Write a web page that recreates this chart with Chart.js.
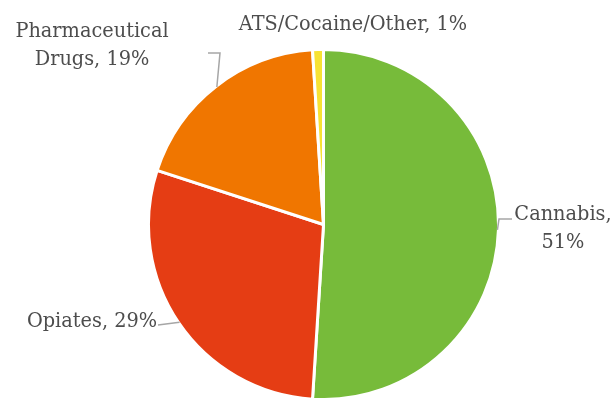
<!DOCTYPE html>
<html>
<head>
<meta charset="utf-8">
<script src="https://cdn.jsdelivr.net/npm/chart.js@4.4.1/dist/chart.umd.min.js"></script>
<style>
  html, body { margin: 0; padding: 0; background: #fff; }
  #wrap { width: 615px; height: 398px; }
</style>
</head>
<body>
<div id="wrap"><canvas id="pie" width="615" height="398"></canvas></div>
<script>
// drug types and their share of the total
var categories = ['Cannabis', 'Opiates', 'Pharmaceutical Drugs', 'ATS/Cocaine/Other'];
var shares = [51, 29, 19, 1];
var sliceColors = ['#77BB3A', '#E53D14', '#F07600', '#F7E234'];

// label text lines for each slice
var labelLines = [
  ['Cannabis,', '51%'],
  ['Opiates, 29%'],
  ['Pharmaceutical', 'Drugs, 19%'],
  ['ATS/Cocaine/Other, 1%']
];

// where each label sits and how its leader line bends
var labelLayout = [
  { x: 563, y: [220, 248], elbow: [[512, 219], [499, 219]] },
  { x: 92, y: [327], elbow: [[158, 325]] },
  { x: 92, y: [37, 65], elbow: [[208, 53], [220, 53]] },
  { x: 353, y: [30], elbow: null }
];

var labelPlugin = {
  id: 'sliceLabels',
  afterDraw: function(chart) {
    var ctx = chart.ctx;
    var arcs = chart.getDatasetMeta(0).data;
    ctx.save();
    ctx.strokeStyle = '#A6A6A6';
    ctx.lineWidth = 1.5;
    arcs.forEach(function(arc, i) {
      var lay = labelLayout[i];
      if (!lay.elbow) return;
      var mid = (arc.startAngle + arc.endAngle) / 2;
      var r = arc.outerRadius - 1;
      ctx.beginPath();
      ctx.moveTo(lay.elbow[0][0], lay.elbow[0][1]);
      for (var k = 1; k < lay.elbow.length; k++) ctx.lineTo(lay.elbow[k][0], lay.elbow[k][1]);
      ctx.lineTo(arc.x + Math.cos(mid) * r, arc.y + Math.sin(mid) * r);
      ctx.stroke();
    });
    ctx.fillStyle = '#4D4D4D';
    ctx.font = '21px "DejaVu Serif"';
    ctx.textAlign = 'center';
    ctx.textBaseline = 'alphabetic';
    labelLines.forEach(function(lines, i) {
      var lay = labelLayout[i];
      lines.forEach(function(t, j) {
        ctx.save();
        ctx.translate(lay.x, lay.y[j]);
        ctx.scale(0.92, 1);
        ctx.fillText(t, 0, 0);
        ctx.restore();
      });
    });
    ctx.restore();
  }
};

new Chart(document.getElementById('pie'), {
  type: 'pie',
  data: {
    labels: categories,
    datasets: [{
      data: shares,
      backgroundColor: sliceColors,
      borderColor: '#ffffff',
      borderWidth: 3
    }]
  },
  options: {
    responsive: false,
    animation: false,
    radius: 175,
    layout: { padding: { top: 51, bottom: 0, left: 32, right: 0 } },
    plugins: {
      legend: { display: false },
      tooltip: { enabled: false }
    }
  },
  plugins: [labelPlugin]
});
</script>
</body>
</html>
